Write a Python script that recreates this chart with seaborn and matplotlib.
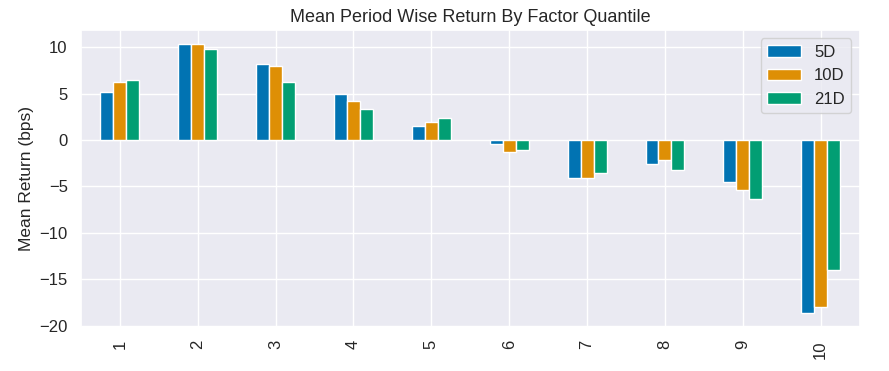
import matplotlib
matplotlib.use("Agg")
import matplotlib.pyplot as plt
import pandas as pd
import seaborn as sns

# ── data ────────────────────────────────────────────────────────────────────
quantiles = [1, 2, 3, 4, 5, 6, 7, 8, 9, 10]
ret_5d = [5.13, 10.39, 8.24, 4.91, 1.47, -0.39, -4.05, -2.54, -4.48, -18.67]
ret_10d = [6.20, 10.39, 7.92, 4.16, 1.90, -1.29, -4.05, -2.11, -5.34, -17.99]
ret_21d = [6.42, 9.75, 6.20, 3.30, 2.33, -1.04, -3.51, -3.19, -6.31, -14.01]

sns.set_theme(style="darkgrid", palette="colorblind")
plt.rcParams["font.family"] = ["Liberation Sans", "DejaVu Sans"]

df = pd.DataFrame({"5D": ret_5d, "10D": ret_10d, "21D": ret_21d},
                  index=pd.Index(quantiles, name="factor_quantile"))

fig, ax = plt.subplots(figsize=(8.89, 3.71), dpi=100)
df.plot.bar(ax=ax, width=0.5, edgecolor="white", linewidth=1)
ax.set_title("Mean Period Wise Return By Factor Quantile", fontsize=13)
ax.set_ylabel("Mean Return (bps)", fontsize=12.5)
ax.set_xlabel("")
ax.tick_params(axis="both", labelsize=12)
ax.legend(fontsize=12, loc="upper right", frameon=True)

fig.subplots_adjust(left=0.091, right=0.967, top=0.919, bottom=0.119)
fig.savefig("out.png", dpi=100)
plt.close(fig)
